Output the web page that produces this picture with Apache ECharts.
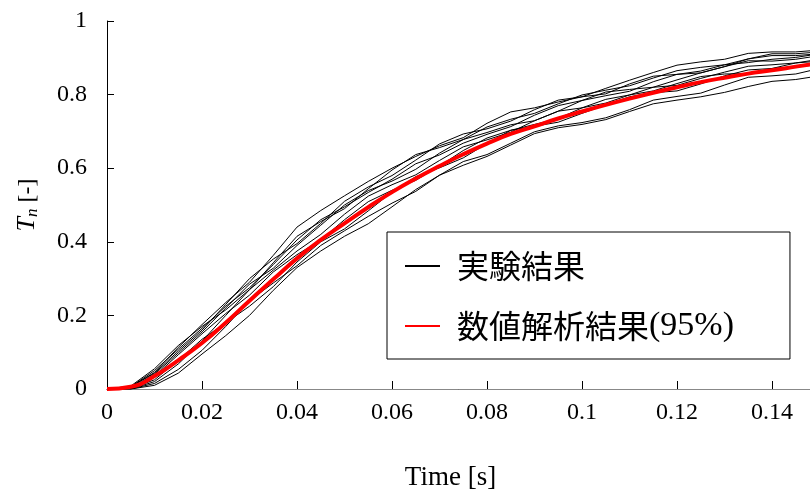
<!DOCTYPE html>
<html><head><meta charset="utf-8">
<script src="https://cdn.jsdelivr.net/npm/echarts@6/dist/echarts.min.js"></script>
<style>html,body{margin:0;padding:0;background:#fff}#c{width:810px;height:497px}</style>
</head><body><div id="c"></div>
<script>
// time grid (s)
const time = [0,0.005,0.01,0.015,0.02,0.025,0.03,0.035,0.04,0.045,0.05,0.055,0.06,0.065,0.07,0.075,0.08,0.085,0.09,0.095,0.1,0.105,0.11,0.115,0.12,0.125,0.13,0.135,0.14,0.145,0.15];
// numerical result (95%)
const numerical = [0,0.006,0.035,0.078,0.125,0.18,0.24,0.298,0.355,0.405,0.45,0.494,0.535,0.572,0.606,0.638,0.667,0.693,0.714,0.735,0.754,0.772,0.789,0.805,0.82,0.834,0.846,0.857,0.866,0.876,0.886];
// experimental results
const exp1 = [0,0.006,0.045,0.113,0.175,0.235,0.29,0.363,0.44,0.485,0.525,0.564,0.60,0.632,0.661,0.683,0.722,0.753,0.764,0.78,0.794,0.817,0.839,0.86,0.88,0.889,0.896,0.912,0.916,0.916,0.921];
const exp2 = [0,0.006,0.05,0.108,0.165,0.225,0.275,0.338,0.405,0.46,0.495,0.534,0.57,0.612,0.636,0.668,0.692,0.713,0.744,0.77,0.784,0.797,0.809,0.835,0.855,0.864,0.881,0.887,0.896,0.901,0.911];
const exp3 = [0,0.002,0.04,0.098,0.155,0.22,0.285,0.328,0.39,0.445,0.50,0.539,0.565,0.597,0.641,0.678,0.697,0.718,0.729,0.755,0.784,0.807,0.814,0.82,0.84,0.859,0.876,0.892,0.891,0.896,0.906];
const exp4 = [0,0,0.02,0.068,0.13,0.20,0.27,0.323,0.375,0.42,0.475,0.524,0.555,0.582,0.621,0.658,0.677,0.698,0.729,0.755,0.764,0.777,0.799,0.82,0.825,0.844,0.861,0.877,0.881,0.886,0.896];
const exp5 = [0,0,0.015,0.053,0.105,0.17,0.24,0.288,0.335,0.39,0.43,0.469,0.505,0.537,0.581,0.618,0.637,0.668,0.699,0.715,0.724,0.737,0.759,0.785,0.795,0.804,0.826,0.847,0.851,0.856,0.871];
const exp6 = [0,0,0.01,0.043,0.095,0.145,0.20,0.268,0.33,0.375,0.415,0.449,0.495,0.542,0.581,0.608,0.632,0.663,0.694,0.71,0.719,0.732,0.754,0.775,0.785,0.794,0.806,0.822,0.836,0.841,0.851];
const exp7 = [0,0.008,0.055,0.118,0.17,0.215,0.27,0.343,0.415,0.455,0.49,0.544,0.595,0.637,0.656,0.678,0.712,0.733,0.749,0.775,0.799,0.812,0.824,0.845,0.865,0.874,0.881,0.897,0.911,0.911,0.916];
const exp8 = [0,0.003,0.035,0.093,0.15,0.205,0.255,0.318,0.365,0.405,0.46,0.509,0.54,0.567,0.606,0.648,0.682,0.703,0.714,0.725,0.749,0.772,0.794,0.805,0.81,0.829,0.851,0.867,0.871,0.876,0.881];
const exp9 = [0,0.006,0.043,0.103,0.16,0.23,0.30,0.353,0.395,0.45,0.51,0.549,0.58,0.622,0.666,0.693,0.707,0.728,0.759,0.785,0.794,0.802,0.829,0.85,0.855,0.859,0.876,0.897,0.906,0.906,0.911];
const exp10 = [0,0.001,0.025,0.078,0.135,0.18,0.225,0.278,0.345,0.40,0.435,0.484,0.535,0.577,0.601,0.628,0.667,0.703,0.719,0.735,0.764,0.787,0.799,0.81,0.83,0.849,0.856,0.857,0.871,0.886,0.891];
const experiments = [exp1,exp2,exp3,exp4,exp5,exp6,exp7,exp8,exp9,exp10];

const expName = '実験結果';
const numName = '数値解析結果(95%)';

const serif = 'Liberation Serif';
const cjk = 'Noto Sans CJK JP';

const pairs = arr => time.map((t,i)=>[t,arr[i]]);

const series = experiments.map(e => ({
  name: expName, type:'line', data: pairs(e), symbol:'none', showSymbol:false,
  lineStyle:{color:'#000', width:1}, itemStyle:{color:'#000'}, z:2, animation:false
}));
series.push({
  name: numName, type:'line', data: pairs(numerical), symbol:'none', showSymbol:false, smooth:true,
  lineStyle:{color:'#ff0000', width:4}, itemStyle:{color:'#ff0000'}, z:5, animation:false
});

const isTick = v => Math.abs(v / 0.02 - Math.round(v / 0.02)) < 1e-6;

const chart = echarts.init(document.getElementById('c'), null, {renderer:'canvas'});
chart.setOption({
  backgroundColor:'#fff',
  animation:false,
  grid:{left:107, top:21, right:0, bottom:108, containLabel:false},
  xAxis:[{
    type:'value', min:0, max:0.148, interval:0.02, position:'bottom',
    axisLine:{show:true, onZero:false, lineStyle:{color:'#222', width:1}},
    axisTick:{show:true, inside:true, length:8, lineStyle:{color:'#000', width:1}},
    axisLabel:{fontFamily:serif, fontSize:24, color:'#000', margin:12, showMaxLabel:false,
      formatter: v => isTick(v) ? String(+v.toFixed(2)) : ''},
    splitLine:{show:false},
    name:'Time [s]', nameLocation:'middle', nameGap:75,
    nameTextStyle:{fontFamily:serif, fontSize:27, color:'#000', padding:[0,16,0,0]}
  },{
    type:'value', min:0, max:0.148, position:'top',
    axisLine:{show:true, lineStyle:{color:'#888', width:1}},
    axisTick:{show:false}, axisLabel:{show:false}, splitLine:{show:false}
  }],
  yAxis:{
    type:'value', min:0, max:1, interval:0.2,
    axisLine:{show:true, onZero:false, lineStyle:{color:'#000', width:1}},
    axisTick:{show:true, inside:true, length:7, lineStyle:{color:'#000', width:1}},
    axisLabel:{fontFamily:serif, fontSize:24, color:'#000', margin:20,
      formatter: v => String(+v.toFixed(1))},
    splitLine:{show:false},
    name:'{i|T}{s|n} [-]', nameLocation:'middle', nameGap:66, nameRotate:90,
    nameTextStyle:{fontFamily:serif, fontSize:24, color:'#000',
      rich:{
        i:{fontFamily:serif, fontStyle:'italic', fontSize:26, color:'#000'},
        s:{fontFamily:serif, fontStyle:'italic', fontSize:17, color:'#000', padding:[10,0,0,0]}
      }}
  },
  legend:{
    show:true, orient:'vertical', left:387, top:232,
    padding:[14,56,13,18], itemGap:20, itemWidth:35, itemHeight:14,
    backgroundColor:'#fff', borderColor:'#000', borderWidth:1, borderRadius:0,
    data:[
      {name:expName, icon:'path://M0,0L35,0L35,2L0,2Z', itemStyle:{color:'#000'}},
      {name:numName, icon:'path://M0,0L35,0L35,2L0,2Z', itemStyle:{color:'#ff0000'}}
    ],
    formatter: n => n === numName ? '{c|数値解析結果}{e|(95%)}' : '{c|' + n + '}',
    textStyle:{color:'#000', fontSize:32, lineHeight:40, padding:[0,0,0,12],
      rich:{
        c:{fontFamily:cjk, fontSize:32, color:'#000', lineHeight:40},
        e:{fontFamily:serif, fontSize:34, color:'#000', lineHeight:40}
      }}
  },
  series: series
});
</script></body></html>
